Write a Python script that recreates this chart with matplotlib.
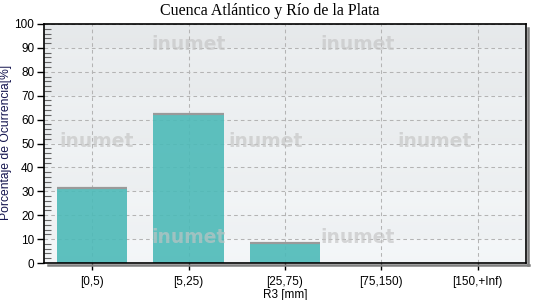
import numpy as np
import matplotlib
matplotlib.use("Agg")
import matplotlib.pyplot as plt
from matplotlib.ticker import MultipleLocator

categories = ["[0,5)", "[5,25)", "[25,75)", "[75,150)", "[150,+Inf)"]
values = [31.4, 62.3, 8.4, 0.0, 0.0]
title = "Cuenca Atlántico y Río de la Plata"
xlabel = "R3 [mm]"
ylabel = "Porcentaje de Ocurrencia[%]"

fig = plt.figure(figsize=(5.4, 3.0), dpi=100)
fig.patch.set_facecolor("white")
ax = fig.add_axes([44/540, 1-263/300, (526-44)/540, (263-24)/300])

# background bands gradient
H = 1000
ys = np.linspace(0, 100, H)
band = np.floor(ys / 10).astype(int)
frac = (ys % 10) / 10.0
base = 0.972 - 0.0042 * band
alt = np.where(band % 2 == 1, -0.014, 0.0)
vals = base + alt + 0.006 * frac
rgb = np.stack([vals - 0.02, vals - 0.009, vals - 0.002], axis=1)
img = np.clip(rgb, 0, 1)[:, None, :]
ax.imshow(img, extent=[-0.5, 4.5, 0, 100], origin="lower", aspect="auto", zorder=0)

x = np.arange(len(categories))
ax.grid(True, which="major", color="#b4b4b4", linestyle=(0, (3.5, 3)), linewidth=0.75, zorder=3)

wm_pos = [(1.0, 91.5), (2.75, 91.5), (0.05, 51), (1.8, 51), (3.55, 51), (1.0, 10.5), (2.75, 10.5)]
for (wx, wy) in wm_pos:
    ax.text(wx, wy, "inumet", ha="center", va="center", fontsize=13.5, fontweight="bold",
            color="#c4c4c4", alpha=0.65, zorder=4, family="DejaVu Sans")

bars = ax.bar(x, values, width=0.73, color="#4dbab8", alpha=0.9, zorder=2,
              edgecolor="none")
for xi, v in zip(x, values):
    if v > 0:
        ax.plot([xi - 0.365, xi + 0.365], [v, v], color="#9a9a9a", lw=1.6, zorder=2.5,
                solid_capstyle="butt")

ax.set_xlim(-0.5, 4.5)
ax.set_ylim(0, 100)
ax.set_xticks(x)
ax.set_xticklabels(categories, fontsize=8, family="Liberation Sans")
ax.yaxis.set_major_locator(MultipleLocator(10))
ax.yaxis.set_minor_locator(MultipleLocator(2))
ax.tick_params(axis="y", which="major", direction="out", length=5, width=1, labelsize=8.5, pad=2)
ax.tick_params(axis="y", which="minor", direction="in", length=5, width=0.8, color="#666666")
ax.tick_params(axis="x", which="major", direction="out", length=5, width=1, labelsize=8.5, pad=4)
for lab in ax.get_yticklabels() + ax.get_xticklabels():
    lab.set_family("Liberation Sans")
for s in ax.spines.values():
    s.set_linewidth(1.2)
    s.set_color("black")

ax.set_xlabel(xlabel, fontsize=8.5, labelpad=1, family="Liberation Sans")
fig.text(6.5/540, 1-142/300, ylabel, rotation=90, ha="center", va="center", fontsize=8.7,
         color="#15154f", family="Liberation Sans")
fig.text(0.5, 1-11/300, title, ha="center", va="center", fontsize=11.5, family="Liberation Serif")

# shadow
fig.add_artist(plt.Line2D([528/540, 528/540], [1-28/300, 1-265/300], color="#808080", lw=1.8,
                          transform=fig.transFigure))
fig.add_artist(plt.Line2D([48/540, 528.8/540], [1-265.2/300, 1-265.2/300], color="#808080", lw=1.8,
                          transform=fig.transFigure))

fig.savefig("out.png", dpi=100)
